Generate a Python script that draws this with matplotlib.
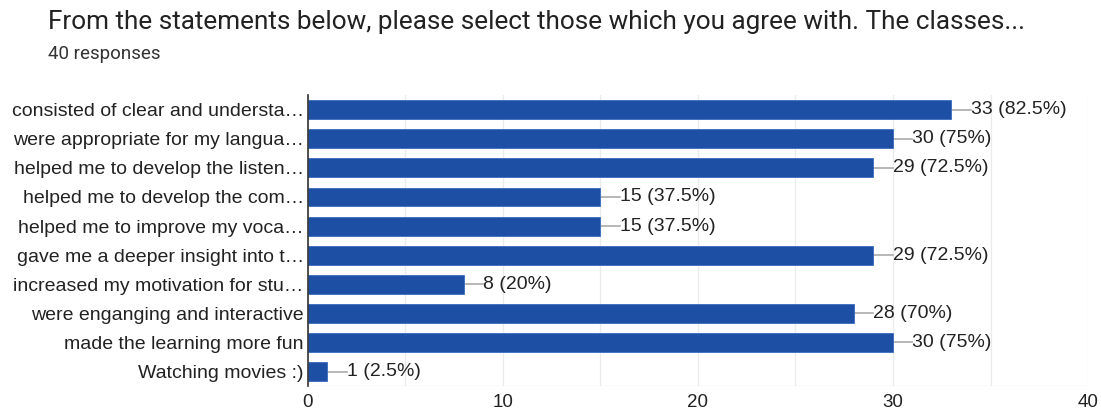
import numpy as np
import matplotlib.pyplot as plt

# ---- data ----
labels = [
    "consisted of clear and understa…",
    "were appropriate for my langua…",
    "helped me to develop the listen…",
    "helped me to develop the com…",
    "helped me to improve my voca…",
    "gave me a deeper insight into t…",
    "increased my motivation for stu…",
    "were enganging and interactive",
    "made the learning more fun",
    "Watching movies :)",
]
counts = [33, 30, 29, 15, 15, 29, 8, 28, 30, 1]
percents = ["82.5%", "75%", "72.5%", "37.5%", "37.5%", "72.5%", "20%", "70%", "75%", "2.5%"]
total = 40

BAR_COLOR = "#1d4fa4"
TXT = "#222222"

fig = plt.figure(figsize=(11.01, 4.12), dpi=100)
ax = fig.add_axes([0.2797, 0.063, 0.7085, 0.706])

y = np.arange(len(labels))
ax.barh(y, counts, height=0.65, color=BAR_COLOR, edgecolor="#3a6cc0", linewidth=0.6, zorder=3)

for yi, c, p in zip(y, counts, percents):
    ax.plot([c, c + 1.0], [yi, yi], color="#aaaaaa", lw=1.2, zorder=2)
    ax.text(c + 1.0, yi, f"{c} ({p})", va="center", ha="left",
            fontsize=14, family="Liberation Sans", color=TXT)

ax.set_xlim(0, 40)
ax.set_ylim(len(labels) - 0.5, -0.5)
ax.set_yticks(y)
ax.set_yticklabels(labels, fontsize=14, family="Liberation Sans", color=TXT)
ax.set_xticks([0, 10, 20, 30, 40])
ax.set_xticklabels(["0", "10", "20", "30", "40"], fontsize=13.5,
                   family="Liberation Sans", color=TXT)
ax.set_xticks(np.arange(0, 41, 5), minor=True)
ax.grid(axis="x", which="both", color="#ebebeb", lw=1, zorder=0)
ax.tick_params(axis="both", which="both", length=0)
ax.tick_params(axis="x", pad=6)
ax.tick_params(axis="y", pad=3)
for s in ["top", "right", "bottom"]:
    ax.spines[s].set_visible(False)
ax.spines["left"].set_color("#333333")
ax.spines["left"].set_linewidth(1.2)
ax.spines["left"].set_zorder(4)
ax.axhline(len(labels) - 0.5, color="#ebebeb", lw=1, zorder=0)

fig.text(48 / 1101, 1 - 22 / 412, "From the statements below, please select those which you agree with. The classes...",
         fontsize=18.8, family="Roboto", color=TXT, va="center", ha="left")
fig.text(48 / 1101, 1 - 54 / 412, f"{total} responses",
         fontsize=13.5, family="Roboto", color="#333333", va="center", ha="left")

fig.savefig("out.png", dpi=100, facecolor="white")
